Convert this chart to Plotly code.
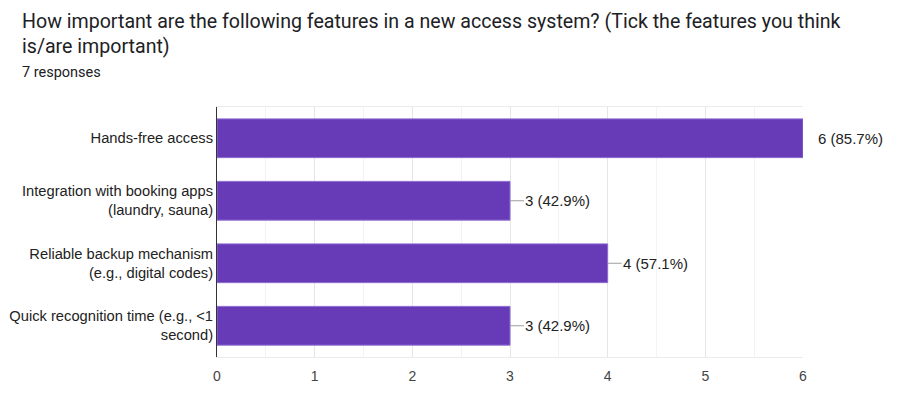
import plotly.graph_objects as go

categories = [
    "Hands-free access",
    "Integration with booking apps<br>(laundry, sauna)",
    "Reliable backup mechanism<br>(e.g., digital codes)",
    "Quick recognition time (e.g., <1<br>second)",
]
counts = [6, 3, 4, 3]
total_responses = 7
tick_values = [0, 1, 2, 3, 4, 5, 6]

labels = [f"{c} ({c / total_responses * 100:.1f}%)" for c in counts]

FONT = "Liberation Sans, Arial"

fig = go.Figure()
fig.add_trace(go.Bar(
    x=counts, y=categories, orientation="h",
    marker=dict(color="#673ab7", line=dict(color="#8e6cd1", width=1)),
    width=0.62, hoverinfo="skip",
))

for c, cat, lab in zip(counts, categories, labels):
    if c < max(counts):
        fig.add_shape(type="line", xref="x", yref="y", xsizemode="pixel",
                      xanchor=c, x0=0, x1=14, y0=cat, y1=cat,
                      line=dict(color="#9e9e9e", width=1))
    fig.add_annotation(x=c, y=cat, xref="x", yref="y", text=lab,
                       showarrow=False, xanchor="left", xshift=13,
                       font=dict(family=FONT, size=15, color="#222222"))

fig.add_annotation(x=0, y=1, xref="paper", yref="paper", xanchor="left", yanchor="top",
                   xshift=-197, yshift=99, align="left", showarrow=False,
                   text="How important are the following features in a new access system? (Tick the features you think<br>is/are important)",
                   font=dict(family="Roboto", size=19.6, color="#202124"))
fig.add_annotation(x=0, y=1, xref="paper", yref="paper", xanchor="left", yanchor="top",
                   xshift=-197, yshift=45, align="left", showarrow=False,
                   text=f"{total_responses} responses",
                   font=dict(family="Roboto", size=14.5, color="#202124"))

fig.update_layout(
    width=912, height=400,
    margin=dict(l=209, r=117, t=99, b=51),
    paper_bgcolor="white", plot_bgcolor="white",
    showlegend=False,
    xaxis=dict(range=[0, 6], tickvals=tick_values, showgrid=True, gridcolor="#e6e6e6",
               minor=dict(dtick=0.5, showgrid=True, gridcolor="#f3f3f3"),
               zeroline=False, showline=True, mirror=True, linecolor="#ebebeb",
               tickfont=dict(family=FONT, size=14, color="#444444"),
               ticks="", ticklabelstandoff=6, fixedrange=True, automargin=False),
    yaxis=dict(autorange="reversed", showgrid=False, zeroline=False,
               showline=True, linecolor="#333333", linewidth=1, ticks="",
               ticklabelstandoff=0, automargin=False,
               tickfont=dict(family=FONT, size=14.7, color="#222222")),
)

fig.write_html("out.html")
